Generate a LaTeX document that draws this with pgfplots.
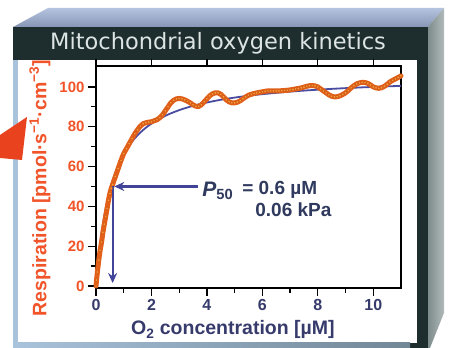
\documentclass[border=0pt]{standalone}
\usepackage{pgfplots}
\pgfplotsset{compat=1.18}
\usetikzlibrary{arrows.meta}
\usepackage{fontspec}
\setmainfont{Liberation Sans}
\newfontfamily\titlefont{DejaVu Sans}
\definecolor{framec}{HTML}{1E2D2D}
\definecolor{bevel1}{HTML}{B4C4E0}
\definecolor{bevel2}{HTML}{8796B4}
\definecolor{sidec}{HTML}{7E8C8C}
\definecolor{edgeblue}{HTML}{A9C3DC}
\definecolor{yorange}{HTML}{F2542A}
\definecolor{xnavy}{HTML}{363B6C}
\definecolor{fitblue}{HTML}{4A4CA2}
\definecolor{arrowblue}{HTML}{42449A}
\definecolor{annot}{HTML}{2F3A5E}
\definecolor{band}{HTML}{E2601A}
\definecolor{dotfill}{HTML}{F4A43C}
\definecolor{dotedge}{HTML}{D05414}
\definecolor{titlec}{HTML}{DCE4E4}
\definecolor{redarrow}{HTML}{E8421E}

\pgfplotstableread{
x y
0 0
0.02 3
0.05 7
0.1 13
0.15 18
0.2 22
0.25 27
0.3 31
0.35 35
0.4 39
0.45 43
0.5 46.5
0.55 49
0.6 51
0.7 55
0.8 59
0.9 63
1.0 66.5
1.1 69
1.2 71.5
1.3 74
1.4 76.5
1.5 78.5
1.6 80.3
1.7 81.5
1.8 82
1.9 82.3
2.0 82.5
2.1 83
2.2 83.5
2.3 84.5
2.4 86
2.5 88
2.6 90
2.7 92
2.8 93.3
2.9 94
3.0 94.2
3.1 94
3.2 93.5
3.3 92.8
3.4 92
3.5 91
3.6 90.3
3.7 90.2
3.8 91
3.9 92.5
4.0 94
4.1 95.5
4.2 96.5
4.3 97
4.4 97
4.5 96.3
4.6 95
4.7 93.5
4.8 92.5
4.9 92
5.0 92
5.1 92.3
5.2 93
5.3 94
5.4 95
5.5 95.8
5.6 96.3
5.7 96.7
5.8 97
5.9 97.3
6.0 97.5
6.1 97.8
6.2 98
6.3 98
6.4 98
6.5 98
6.6 98
6.7 98.1
6.8 98.2
6.9 98.3
7.0 98.5
7.1 98.7
7.2 99
7.3 99.2
7.4 99.5
7.5 99.9
7.6 100.3
7.7 100.6
7.8 100.7
7.9 100.5
8.0 100
8.1 99
8.2 98
8.3 97
8.4 96
8.5 95.3
8.6 95
8.7 95.1
8.8 95.5
8.9 96.2
9.0 97
9.1 98.2
9.2 99.5
9.3 100.6
9.4 101.5
9.5 102
9.6 102.3
9.7 102.2
9.8 101.8
9.9 101
10.0 100
10.1 99.5
10.2 99.3
10.3 99.6
10.4 100.3
10.5 101.3
10.6 102.5
10.7 103.3
10.8 104
10.9 104.8
11.0 105.5
}\resp

\pgfplotstableread{
x y
0 0
0.05 8.15
0.1 15.14
0.2 26.5
0.3 35.33
0.4 42.4
0.5 48.18
0.6 53
0.8 60.57
1.0 66.25
1.25 71.62
1.5 75.71
1.75 78.94
2.0 81.54
2.5 85.48
3.0 88.33
3.5 90.49
4.0 92.17
4.5 93.53
5.0 94.64
5.5 95.57
6.0 96.36
7.0 97.63
8.0 98.6
9.0 99.38
10.0 100
11.0 100.52
}\fit

\begin{document}
\begin{tikzpicture}[x=1pt,y=1pt]
\path[use as bounding box] (0,0) rectangle (451,348);
\fill[white] (0,0) rectangle (451,348);
% top bevel
\shade[top color=bevel1, bottom color=bevel2] (13,321) -- (48,340) -- (444,340) -- (428,321) -- cycle;
% right side
\shade[left color=sidec, right color=sidec!60!white] (428,321) -- (444,340) -- (444,35) -- (430,0) -- (428,0) -- cycle;
% front frame
\fill[framec] (13,0) rectangle (428,321);
% white panel
\fill[white] (18,5) rectangle (417,288);
% light edges
\fill[edgeblue] (13,0) rectangle (18,288);
\shade[left color=edgeblue, right color=edgeblue!60!framec] (13,0) rectangle (410,5);
% red arrow at left
\fill[redarrow] (0,213) -- (27,231) -- (22,188) -- (0,190) -- cycle;
% title
\node[text=titlec, font=\titlefont\fontsize{22.5}{22.5}\selectfont] at (218,305) {Mitochondrial oxygen kinetics};

\begin{axis}[
  at={(96pt,60pt)}, anchor=south west,
  width=305pt, height=222pt, scale only axis,
  xmin=0, xmax=11, ymin=-1, ymax=110.5,
  axis line style={line width=1.6pt, black},
  xtick={0,2,...,10}, minor xtick={1,3,...,9},
  ytick={0,20,...,100}, minor ytick={10,30,...,90},
  xtick pos=bottom, ytick pos=left,
  tick align=outside,
  major tick length=8pt, minor tick length=5pt,
  every major tick/.style={line width=1.3pt, black},
  every minor tick/.style={line width=1.3pt, black},
  /pgf/number format/assume math mode=true,
  xticklabel style={font=\fontsize{16}{16}\selectfont\bfseries, text=xnavy},
  yticklabel style={font=\fontsize{15}{15}\selectfont\bfseries, text=yorange},
  every axis y label/.style={at={(axis description cs:-0.184,0.45)}, rotate=90, anchor=center},
  every axis x label/.style={at={(axis description cs:0.449,-0.189)}, anchor=center},
  ylabel={\fontsize{19.5}{19.5}\selectfont\bfseries\color{yorange}Respiration [pmol·s\textsuperscript{−1}·cm\textsuperscript{−3}]},
  xlabel={\fontsize{19.5}{19.5}\selectfont\bfseries\color{xnavy}O\textsubscript{2} concentration [µM]},
  clip=false,
]
\addplot[fitblue, line width=1.8pt, smooth] table[x=x,y=y] {\fit};
\addplot[band, line width=5pt, smooth, line cap=round] table[x=x,y=y] {\resp};
\addplot[only marks, mark=*, mark size=1.5pt, mark options={fill=dotfill, draw=dotedge, line width=0.4pt}] table[x=x,y=y] {\resp};
\draw[arrowblue, line width=2.2pt, -{Stealth[length=10pt,width=9pt]}] (axis cs:3.67,50) -- (axis cs:0.66,50);
\draw[arrowblue, line width=2.2pt, -{Stealth[length=10pt,width=9pt]}] (axis cs:0.6,50) -- (axis cs:0.6,1.5);
\node[anchor=base west, text=annot, font=\fontsize{21}{21}\selectfont\bfseries, inner sep=0pt] at (axis cs:3.83,45.2) {\itshape P\textsubscript{\upshape 50}};
\node[anchor=base west, text=annot, font=\fontsize{19}{19}\selectfont\bfseries, inner sep=0pt] at (axis cs:5.27,46.2) {= 0.6 µM};
\node[anchor=base west, text=annot, font=\fontsize{19}{19}\selectfont\bfseries, inner sep=0pt] at (axis cs:5.74,34.7) {0.06 kPa};
\end{axis}
\begin{axis}[
  at={(96pt,60pt)}, anchor=south west,
  width=305pt, height=222pt, scale only axis,
  xmin=0, xmax=11, ymin=-1, ymax=110.5,
  axis x line*=top, hide y axis,
  axis line style={line width=1.6pt, black},
  xtick={0,2,...,10}, xticklabels={},
  tick align=outside, major tick length=7pt,
  every major tick/.style={line width=1.3pt, black},
]
\end{axis}
\end{tikzpicture}
\end{document}
